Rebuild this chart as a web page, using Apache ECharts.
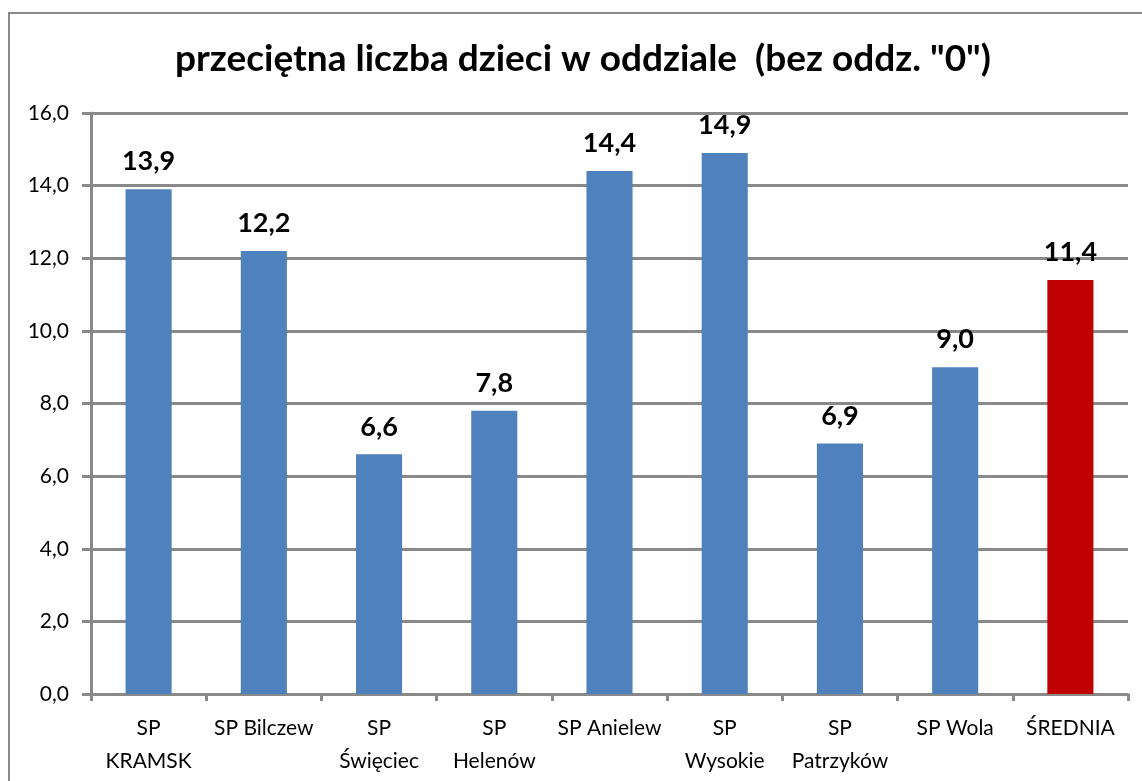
<!DOCTYPE html>
<html><head><meta charset="utf-8">
<script src="https://cdn.jsdelivr.net/npm/echarts@6/dist/echarts.min.js"></script>
<style>html,body{margin:0;padding:0;background:#fff}#c{width:1142px;height:781px}</style>
</head><body><div id="c"></div>
<script>
const titleText = 'przeciętna liczba dzieci w oddziale  (bez oddz. "0")';
const categories = ['SP\nKRAMSK','SP Bilczew','SP\nŚwięciec','SP\nHelenów','SP Anielew','SP\nWysokie','SP\nPatrzyków','SP Wola','ŚREDNIA'];
const values = [13.9, 12.2, 6.6, 7.8, 14.4, 14.9, 6.9, 9.0, 11.4];
const highlight = [false, false, false, false, false, false, false, false, true];
const yMin = 0, yMax = 16, yStep = 2;

const fmt = v => v.toFixed(1).replace('.', ',');
const font = 'Lato, "Open Sans", sans-serif';
const chart = echarts.init(document.getElementById('c'), null, {renderer:'canvas'});
chart.setOption({
  animation:false,
  graphic:[{type:'rect', shape:{x:9,y:13,width:1300,height:1000}, style:{fill:'none', stroke:'#8a8a8a', lineWidth:2}, z:-1}],
  title:{text:titleText, left:170, top:36, textStyle:{fontFamily:font, fontSize:37, fontWeight:'bold', color:'#000'}},
  grid:{left:91, right:14, top:113, bottom:87},
  xAxis:{type:'category', data:categories,
    axisLine:{lineStyle:{color:'#898989', width:3}},
    axisTick:{show:true, alignWithLabel:false, length:7, lineStyle:{color:'#898989', width:3}},
    axisLabel:{fontFamily:font, fontSize:21, color:'#000', lineHeight:33, margin:18, interval:0}},
  yAxis:{type:'value', min:yMin, max:yMax, interval:yStep,
    axisLine:{show:true, lineStyle:{color:'#898989', width:3}},
    axisTick:{show:true, length:9, lineStyle:{color:'#898989', width:3}},
    splitLine:{lineStyle:{color:'#898989', width:3}},
    axisLabel:{fontFamily:font, fontSize:21, color:'#000', margin:22, formatter:v=>fmt(v)}},
  series:[{type:'bar', barWidth:'40%',
    data: values.map((v,i)=>({value:v, itemStyle:{color: highlight[i] ? '#C00000' : '#4F81BD'}})),
    label:{show:true, position:'top', distance:14, fontFamily:font, fontSize:27, fontWeight:'bold', color:'#000', formatter:p=>fmt(p.value)}}]
});
</script></body></html>
